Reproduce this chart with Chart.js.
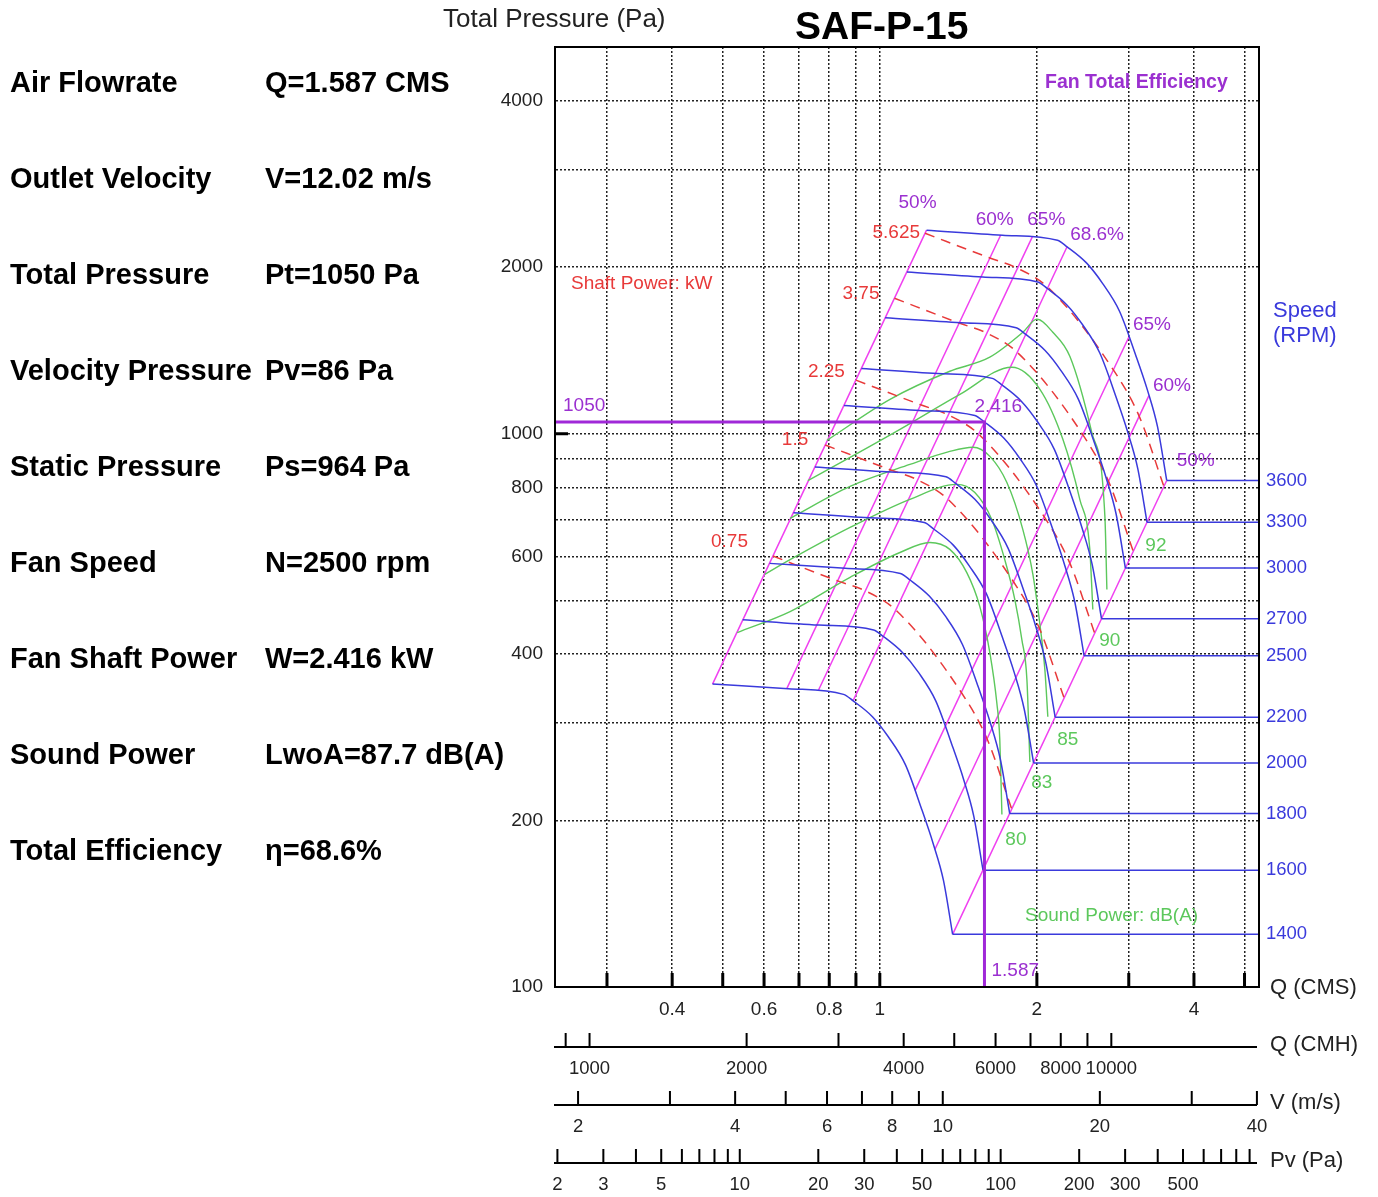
<!DOCTYPE html>
<html>
<head>
<meta charset="utf-8">
<script src="https://cdn.jsdelivr.net/npm/chart.js@4.4.1/dist/chart.umd.min.js"></script>
<style>
  body { margin: 0; background: #fff; }
  #wrap { position: relative; width: 1378px; height: 1197px; overflow: hidden; font-family: "Liberation Sans", Arial, sans-serif; }
  #fanChart { position: absolute; left: 0; top: 0; }
  .txt { position: absolute; white-space: nowrap; line-height: 1; color: #000; }
  .info { font-size: 29px; font-weight: bold; }
</style>
</head>
<body>
<div id="wrap">
  <canvas id="fanChart" width="1378" height="1197"></canvas>
  <div class="txt" style="left:443px; top:5px; font-size:26px; color:#222;">Total Pressure (Pa)</div>
  <div class="txt" style="left:795px; top:6px; font-size:39px; font-weight:bold;">SAF-P-15</div>
</div>
<script>
// ---- operating point summary ----
const infoNames = ["Air Flowrate", "Outlet Velocity", "Total Pressure", "Velocity Pressure",
  "Static Pressure", "Fan Speed", "Fan Shaft Power", "Sound Power", "Total Efficiency"];
const infoValues = ["Q=1.587 CMS", "V=12.02 m/s", "Pt=1050 Pa", "Pv=86 Pa",
  "Ps=964 Pa", "N=2500 rpm", "W=2.416 kW", "LwoA=87.7 dB(A)", "\u03b7=68.6%"];

const opQ = 1.587, opP = 1050, opPowerText = "2.416";

// ---- axes ----
const Q_MIN = 0.2385, Q_MAX = 5.33, P_MIN = 100, P_MAX = 5000;
const xGrid = [0.3, 0.4, 0.5, 0.6, 0.7, 0.8, 0.9, 1, 2, 3, 4, 5];
const xLabels = [0.4, 0.6, 0.8, 1, 2, 4];
const yGrid = [100, 200, 300, 400, 500, 600, 700, 800, 900, 1000, 2000, 3000, 4000, 5000];
const yLabels = [100, 200, 400, 600, 800, 1000, 2000, 4000];

const cmhTicks = [900, 1000, 2000, 3000, 4000, 5000, 6000, 7000, 8000, 9000, 10000];
const cmhLabels = [1000, 2000, 4000, 6000, 8000, 10000];
const velTicks = [2, 3, 4, 5, 6, 7, 8, 9, 10, 20, 30, 40];
const velLabels = [2, 4, 6, 8, 10, 20, 40];
const pvTicks = [2, 3, 4, 5, 6, 7, 8, 9, 10, 20, 30, 40, 50, 60, 70, 80, 90, 100,
  200, 300, 400, 500, 600, 700, 800, 900];
const pvLabels = [2, 3, 5, 10, 20, 30, 50, 100, 200, 300, 500];

// ---- speed curves [Q (CMS), Pt (Pa)] ----
const speeds = [1400, 1600, 1800, 2000, 2200, 2500, 2700, 3000, 3300, 3600];
const rpm1400 = [[0.478,353],[0.668,346],[0.852,338],[0.889,329],[0.968,308],[1.039,283],[1.120,252],[1.202,210],[1.267,181],[1.324,156],[1.379,124.5]];
const rpm1600 = [[0.546,461],[0.764,451],[0.973,442],[1.016,430],[1.106,402],[1.187,370],[1.280,329],[1.373,275],[1.448,237],[1.513,204],[1.577,162.6]];
const rpm1800 = [[0.615,583],[0.859,571],[1.095,559],[1.143,544],[1.244,509],[1.336,468],[1.440,416],[1.545,348],[1.629,300],[1.702,258],[1.774,205.8]];
const rpm2000 = [[0.683,720],[0.955,705],[1.217,691],[1.270,672],[1.383,629],[1.484,577],[1.600,514],[1.717,429],[1.810,370],[1.891,318],[1.971,254.1]];
const rpm2200 = [[0.751,871],[1.050,853],[1.339,836],[1.397,813],[1.521,761],[1.633,699],[1.760,622],[1.888,520],[1.991,448],[2.081,385],[2.168,307.4]];
const rpm2500 = [[0.854,1125],[1.193,1102],[1.521,1079],[1.587,1050],[1.728,982],[1.855,902],[2.000,803],[2.146,671],[2.262,578],[2.364,497],[2.463,397]];
const rpm2700 = [[0.922,1312],[1.289,1285],[1.643,1259],[1.714,1225],[1.867,1145],[2.004,1052],[2.160,937],[2.318,783],[2.443,674],[2.553,580],[2.660,463.1]];
const rpm3000 = [[1.024,1620],[1.432,1587],[1.825,1554],[1.904,1512],[2.074,1414],[2.226,1299],[2.400,1156],[2.575,966],[2.715,832],[2.837,716],[2.956,571.7]];
const rpm3300 = [[1.127,1960],[1.575,1920],[2.008,1880],[2.095,1830],[2.281,1711],[2.449,1572],[2.640,1399],[2.833,1169],[2.986,1007],[3.121,866],[3.252,691.7]];
const rpm3600 = [[1.229,2333],[1.719,2285],[2.190,2237],[2.285,2177],[2.489,2036],[2.672,1870],[2.880,1665],[3.090,1391],[3.258,1199],[3.405,1031],[3.547,823.2]];
const speedCurves = [rpm1400, rpm1600, rpm1800, rpm2000, rpm2200, rpm2500, rpm2700, rpm3000, rpm3300, rpm3600];

// ---- fan total efficiency lines (low speed end, high speed end) ----
const effNames = ["50%", "60%", "65%", "68.6%", "65%", "60%", "50%"];
const eff50L = [[0.478,352.8],[1.229,2333]];
const eff60L = [[0.663,345.9],[1.705,2287]];
const eff65L = [[0.762,343.1],[1.960,2269]];
const eff686 = [[0.889,329.3],[2.285,2177]];
const eff65R = [[1.168,226.4],[3.003,1497]];
const eff60R = [[1.275,177.2],[3.279,1172]];
const eff50R = [[1.379,124.5],[3.547,823.2]];
const effLines = [eff50L, eff60L, eff65L, eff686, eff65R, eff60R, eff50R];

// ---- shaft power lines (kW) ----
const powerNames = ["5.625", "3.75", "2.25", "1.5", "0.75"];
const kw5625 = [[1.221,2303],[1.625,2078],[1.836,1991],[2.100,1838],[2.803,1304],[3.142,1075],[3.503,803]];
const kw375  = [[1.067,1757],[1.419,1585],[1.604,1520],[1.834,1403],[2.449,996],[2.744,820],[3.060,613]];
const kw225  = [[0.900,1250],[1.197,1128],[1.353,1081],[1.547,998],[2.065,708],[2.314,583],[2.581,436]];
const kw15   = [[0.786,954],[1.046,861],[1.182,825],[1.351,761],[1.804,540],[2.022,445],[2.255,333]];
const kw075  = [[0.624,601],[0.830,542],[0.938,520],[1.073,480],[1.432,341],[1.605,281],[1.789,210]];
const powerLines = [kw5625, kw375, kw225, kw15, kw075];

// ---- sound power lines dB(A) ----
const soundNames = ["80", "83", "85", "90", "92"];
const snd80 = [[0.533,437],[0.673,477],[0.877,550],[1.093,610],[1.247,636],[1.362,618],[1.468,561],[1.555,487],[1.625,402],[1.676,326],[1.698,280],[1.714,205]];
const snd83 = [[0.602,557],[0.673,592],[0.877,677],[1.142,761],[1.405,810],[1.521,783],[1.639,700],[1.736,592],[1.815,501],[1.872,424],[1.914,359],[1.939,255]];
const snd85 = [[0.673,703],[0.877,803],[1.142,880],[1.362,929],[1.508,945],[1.625,910],[1.752,816],[1.880,671],[1.965,557],[2.027,452],[2.072,374],[2.099,308]];
const snd90 = [[0.728,823],[0.877,906],[1.093,1018],[1.424,1178],[1.791,1319],[2.027,1203],[2.243,977],[2.417,761],[2.526,618],[2.560,481]];
const snd92 = [[0.792,973],[1.046,1154],[1.362,1297],[1.625,1375],[1.880,1525],[2.000,1611],[2.146,1525],[2.313,1380],[2.548,1005],[2.700,709],[2.724,523]];
const soundLines = [snd80, snd83, snd85, snd90, snd92];

// ---- colours ----
const BLUE = "#3a3adc", MAGENTA = "#f040f0", RED = "#e83a3a", GREEN = "#5cc85c",
      PURPLE = "#9b30d0", OPLINE = "#a028d8";

// auxiliary scale conversions to Q (CMS)
const OUTLET_AREA = 1.587 / 12.02;
const cmhToQ = v => v / 3600;
const velToQ = v => v * OUTLET_AREA;
const pvToQ = v => Math.sqrt(v / 0.6) * OUTLET_AREA;

// info panel
const wrap = document.getElementById("wrap");
infoNames.forEach((name, i) => {
  const top = 68 + 96 * i;
  [[name, 10], [infoValues[i], 265]].forEach(([t, left]) => {
    const d = document.createElement("div");
    d.className = "txt info";
    d.style.left = left + "px";
    d.style.top = top + "px";
    d.textContent = t;
    wrap.appendChild(d);
  });
});

const pts = arr => arr.map(([x, y]) => ({ x, y }));

const datasets = [];
// operating point lines
datasets.push({ data: pts([[Q_MIN, opP], [opQ, opP], [opQ, P_MIN]]), borderColor: OPLINE, borderWidth: 3, order: 0 });
speedCurves.forEach(c => {
  datasets.push({ data: pts(c), borderColor: BLUE, borderWidth: 1.5, cubicInterpolationMode: "monotone", order: 1 });
  const last = c[c.length - 1];
  datasets.push({ data: pts([last, [Q_MAX, last[1]]]), borderColor: BLUE, borderWidth: 1.5, order: 1 });
});
powerLines.forEach(c => {
  datasets.push({ data: pts(c), borderColor: RED, borderWidth: 1.5, borderDash: [10, 7], cubicInterpolationMode: "monotone", order: 2 });
});
soundLines.forEach(c => {
  datasets.push({ data: pts(c), borderColor: GREEN, borderWidth: 1.4, cubicInterpolationMode: "monotone", order: 3 });
});
effLines.forEach(c => {
  datasets.push({ data: pts(c), borderColor: MAGENTA, borderWidth: 1.5, order: 4 });
});

function txt(ctx, s, x, y, color, size, align, weight) {
  ctx.font = (weight || "") + " " + size + 'px "Liberation Sans", Arial, sans-serif';
  ctx.fillStyle = color;
  ctx.textAlign = align || "left";
  ctx.textBaseline = "middle";
  ctx.fillText(s, x, y);
}

// text offsets (pixels) relative to the line ends they describe
const effLabelOffsets = [[-9,-27],[-6,-15],[14,-17],[30,-12],[23,-12],[23,-10],[29,-20]];
const powerLabelOffsets = [[-5,-1],[-15,-5],[-11,-8],[-17,-5],[-25,-14]];
const soundLabelOffsets = [[14,25],[12,21],[20,23],[17,31],[49,-44]];

const overlay = {
  id: "overlay",
  afterDraw(chart) {
    const { ctx, chartArea: a, scales: { x, y } } = chart;
    const px = q => x.getPixelForValue(q);
    const py = p => y.getPixelForValue(p);
    ctx.save();
    // frame
    ctx.strokeStyle = "#000";
    ctx.lineWidth = 2;
    ctx.strokeRect(a.left, a.top, a.right - a.left, a.bottom - a.top);
    // inner ticks along the bottom
    ctx.lineWidth = 3;
    ctx.beginPath();
    xGrid.forEach(v => { ctx.moveTo(px(v), a.bottom); ctx.lineTo(px(v), a.bottom - 14); });
    ctx.moveTo(a.left, py(1000)); ctx.lineTo(a.left + 13, py(1000));
    ctx.stroke();

    // auxiliary axes
    const aux = (yLine, ticks, labels, toQ, name) => {
      ctx.strokeStyle = "#000";
      ctx.lineWidth = 2;
      ctx.beginPath();
      ctx.moveTo(a.left - 1, yLine); ctx.lineTo(a.right - 2, yLine);
      ticks.forEach(t => { const xx = px(toQ(t)); ctx.moveTo(xx, yLine); ctx.lineTo(xx, yLine - 14); });
      ctx.stroke();
      labels.forEach(l => txt(ctx, String(l), px(toQ(l)), yLine + 22, "#222", 18.5, "center"));
      txt(ctx, name, 1270, yLine - 2, "#222", 22, "left");
    };
    aux(1047, cmhTicks, cmhLabels, cmhToQ, "Q (CMH)");
    aux(1105, velTicks, velLabels, velToQ, "V (m/s)");
    aux(1163, pvTicks, pvLabels, pvToQ, "Pv (Pa)");
    txt(ctx, "Q (CMS)", 1270, a.bottom + 1, "#222", 22, "left");

    // speed labels
    speedCurves.forEach((c, i) => {
      const last = c[c.length - 1];
      txt(ctx, String(speeds[i]), a.right + 7, py(last[1]), BLUE, 18.5, "left");
    });
    txt(ctx, "Speed", 1273, 311, BLUE, 22, "left");
    txt(ctx, "(RPM)", 1273, 336, BLUE, 22, "left");

    // efficiency labels at the top of each line
    effLines.forEach((c, i) => {
      const top = c[1];
      const o = effLabelOffsets[i];
      txt(ctx, effNames[i], px(top[0]) + o[0], py(top[1]) + o[1], PURPLE, 19, "center");
    });
    txt(ctx, "Fan Total Efficiency", 1045, 83, PURPLE, 19.5, "left", "bold");

    // power labels
    powerLines.forEach((c, i) => {
      const o = powerLabelOffsets[i];
      txt(ctx, powerNames[i], px(c[0][0]) + o[0], py(c[0][1]) + o[1], RED, 19, "right");
    });
    txt(ctx, "Shaft Power: kW", 571, 284, RED, 19, "left");

    // sound labels
    soundLines.forEach((c, i) => {
      const e = c[c.length - 1];
      const o = soundLabelOffsets[i];
      txt(ctx, soundNames[i], px(e[0]) + o[0], py(e[1]) + o[1], GREEN, 19, "center");
    });
    txt(ctx, "Sound Power: dB(A)", 1025, 916, GREEN, 19, "left");

    // operating point labels
    txt(ctx, String(opP), a.left + 8, py(opP) - 16, PURPLE, 19, "left");
    txt(ctx, String(opQ), px(opQ) + 7, a.bottom - 16, PURPLE, 19, "left");
    txt(ctx, opPowerText, px(opQ) - 10, py(opP) - 15, PURPLE, 19, "left");
    ctx.restore();
  }
};

new Chart(document.getElementById("fanChart"), {
  type: "scatter",
  data: { datasets: datasets.map(d => Object.assign({ showLine: true, pointRadius: 0, fill: false }, d)) },
  options: {
    responsive: false,
    animation: false,
    layout: { padding: { top: 47, right: 119, left: 0, bottom: 0 } },
    plugins: { legend: { display: false }, tooltip: { enabled: false } },
    elements: { point: { radius: 0 } },
    scales: {
      x: {
        type: "logarithmic", position: "bottom", min: Q_MIN, max: Q_MAX,
        afterBuildTicks: s => { s.ticks = xGrid.map(v => ({ value: v })); },
        afterFit: s => { s.height = 210; },
        grid: { color: "#222", lineWidth: 1.5, drawTicks: false },
        border: { color: "#000", width: 2, dash: [2, 2] },
        ticks: {
          autoSkip: false, maxRotation: 0, padding: 11, color: "#222",
          font: { size: 19 },
          callback: v => xLabels.includes(v) ? String(v) : ""
        }
      },
      y: {
        type: "logarithmic", position: "left", min: P_MIN, max: P_MAX,
        afterBuildTicks: s => { s.ticks = yGrid.map(v => ({ value: v })); },
        afterFit: s => { s.width = 555; },
        grid: { color: "#222", lineWidth: 1.5, drawTicks: false },
        border: { color: "#000", width: 2, dash: [2, 2] },
        ticks: {
          autoSkip: false, padding: 12, color: "#222",
          font: { size: 19 },
          callback: v => yLabels.includes(v) ? String(v) : ""
        }
      }
    }
  },
  plugins: [overlay]
});
</script>
</body>
</html>
